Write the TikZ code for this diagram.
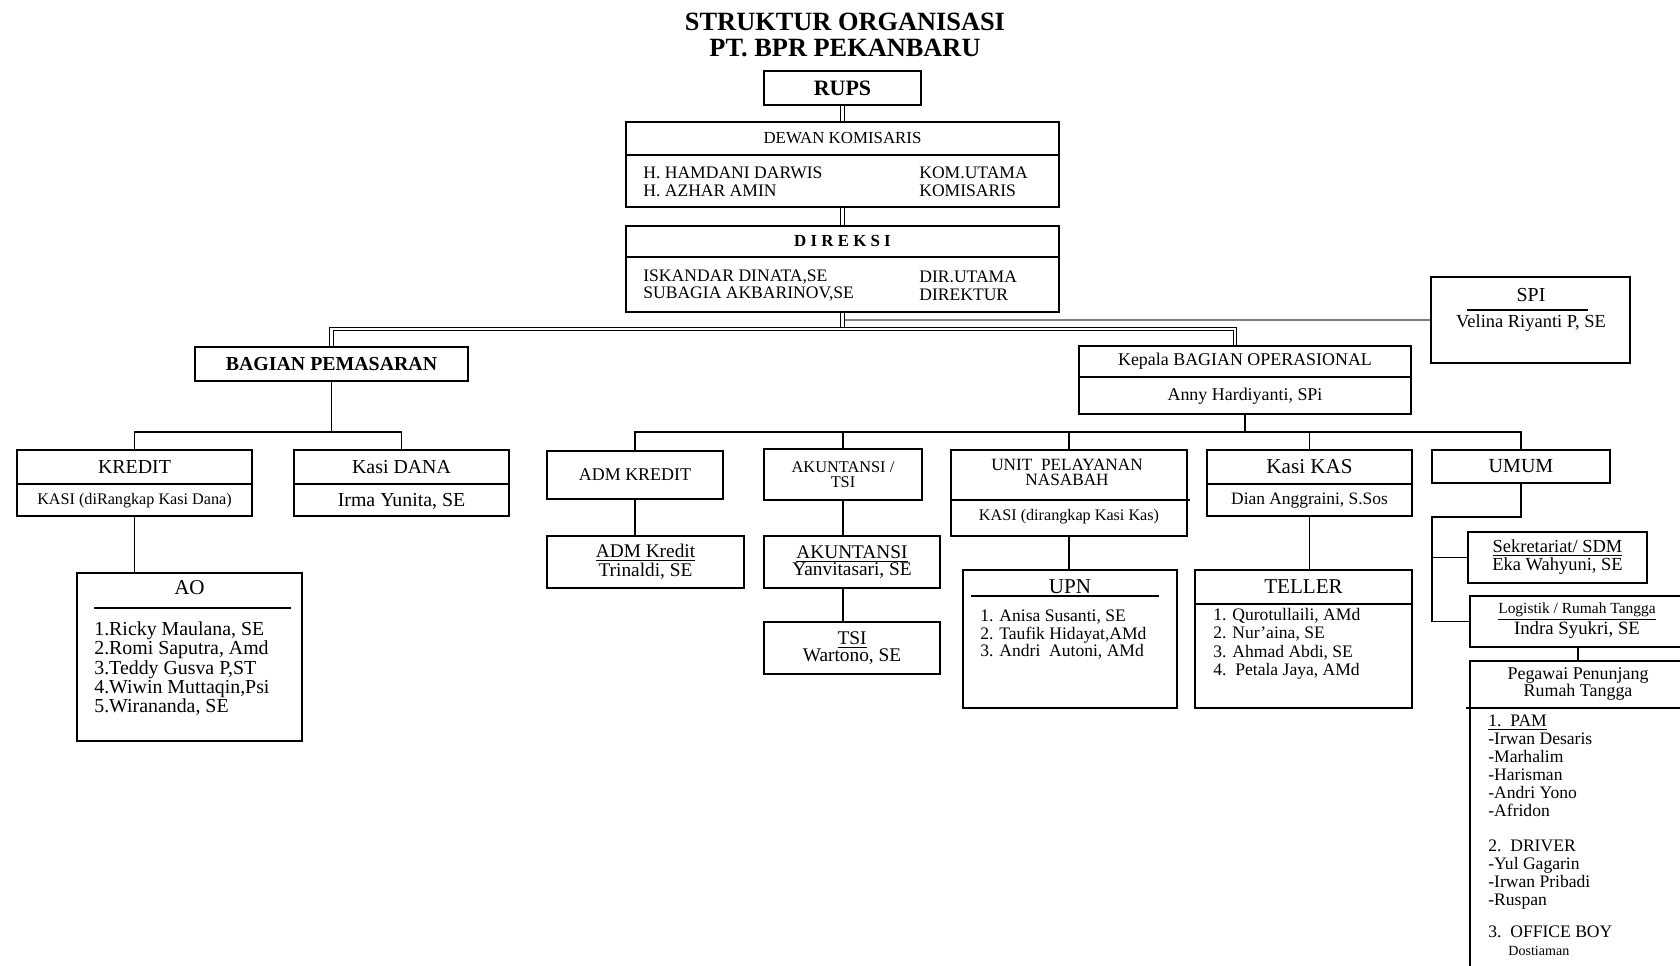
\documentclass[tikz,border=0pt]{standalone}
\usepackage{fontspec}
\setmainfont{Liberation Serif}
\usepackage{tikz}
\usetikzlibrary{calc}

\newcommand{\setfs}[2]{\fontsize{#1}{#2}\selectfont}

\begin{document}
\begin{tikzpicture}[
    box/.style={draw,line width=1.1pt,inner sep=0pt},
    txt/.style={inner sep=0pt,align=center},
    lst/.style={inner sep=0pt,align=left,anchor=north west},
    conn/.style={line width=0.9pt},
    sepl/.style={line width=1pt},
    dbl/.style={double,line width=0.7pt,double distance=1.3pt}]
      \useasboundingbox (0,0) rectangle (33.6,-19.32);
      \clip (0,0) rectangle (33.6,-19.32);

      % title
      \node[txt,font=\bfseries\setfs{15}{14.7}] (title) at (16.9,-0.7)
        {STRUKTUR ORGANISASI\\PT. BPR PEKANBARU};

      % top
      \node[box,minimum width=3.14cm,minimum height=0.68cm,font=\bfseries\setfs{12.5}{13}] (rups) at (16.85,-1.76) {RUPS};

      \node[box,minimum width=8.66cm,minimum height=1.7cm] (dk) at (16.85,-3.29) {};
      \draw[sepl] (dk.west |- 0,-3.1) -- (dk.east |- 0,-3.1);
      \node[txt,font=\setfs{9.6}{10}] (dkhead) at (16.85,-2.76) {DEWAN KOMISARIS};
      \node[txt,align=left,anchor=west,font=\setfs{10}{10.2}] (dkname) at (12.86,-3.64)
        {H. HAMDANI DARWIS\\H. AZHAR AMIN};
      \node[txt,align=left,anchor=west,font=\setfs{10}{10.2}] (dkjob) at (18.38,-3.64)
        {KOM.UTAMA\\KOMISARIS};

      \node[box,minimum width=8.66cm,minimum height=1.72cm] (direksi) at (16.85,-5.38) {};
      \draw[sepl] (direksi.west |- 0,-5.14) -- (direksi.east |- 0,-5.14);
      \node[txt,font=\bfseries\setfs{9.6}{10}] (dirhead) at (16.85,-4.82) {D I R E K S I};
      \node[txt,align=left,anchor=west,font=\setfs{10}{10.2}] (dirname) at (12.86,-5.71)
        {ISKANDAR DINATA,SE\\SUBAGIA AKBARINOV,SE};
      \node[txt,align=left,anchor=west,font=\setfs{10}{10.2}] (dirjob) at (18.38,-5.71)
        {DIR.UTAMA\\DIREKTUR};

      \draw[dbl] (rups) -- (dk);
      \draw[dbl] (dk) -- (direksi);

      % SPI
      \node[box,minimum width=3.98cm,minimum height=1.72cm] (spi) at (30.61,-6.4) {};
      \node[txt,font=\setfs{11.3}{12}] (spihead) at (30.62,-5.9) {SPI};
      \draw[conn] (29.34,-6.2) -- (31.76,-6.2);
      \node[txt,font=\setfs{10.5}{11}] (spiname) at (30.62,-6.46) {Velina Riyanti P, SE};
      \draw[line width=0.6pt,gray] (direksi.south |- spi.west) -- (spi.west);

      % bagian
      \node[box,minimum width=5.46cm,minimum height=0.68cm,font=\bfseries\setfs{11.3}{12}] (pemasaran) at (6.63,-7.28) {BAGIAN PEMASARAN};

      \node[box,minimum width=6.64cm,minimum height=1.36cm] (kepala) at (24.9,-7.6) {};
      \draw[sepl] (kepala.west |- 0,-7.54) -- (kepala.east |- 0,-7.54);
      \node[txt,font=\setfs{10.2}{10}] (kephead) at (24.9,-7.22) {Kepala BAGIAN OPERASIONAL};
      \node[txt,font=\setfs{10.2}{11}] (kepname) at (24.9,-7.93) {Anny Hardiyanti, SPi};

      \coordinate (bus) at (16.85,-6.58);
      \draw[dbl] (direksi) -- (bus);
      \draw[dbl] (pemasaran.north) |- (bus) -| ([xshift=-0.2cm]kepala.north);

      % pemasaran
      \node[box,minimum width=4.7cm,minimum height=1.32cm] (kredit) at (2.69,-9.66) {};
      \draw[sepl] (kredit.west |- 0,-9.68) -- (kredit.east |- 0,-9.68);
      \node[txt,font=\setfs{11.3}{12}] (kredhead) at (2.69,-9.34) {KREDIT};
      \node[txt,font=\setfs{9.2}{9}] (kredsub) at (2.69,-10.02) {KASI (diRangkap Kasi Dana)};

      \node[box,minimum width=4.3cm,minimum height=1.32cm] (dana) at (8.03,-9.66) {};
      \draw[sepl] (dana.west |- 0,-9.68) -- (dana.east |- 0,-9.68);
      \node[txt,font=\setfs{11.3}{12}] (danahead) at (8.03,-9.34) {Kasi DANA};
      \node[txt,font=\setfs{11.3}{12}] (dananame) at (8.03,-10.02) {Irma Yunita, SE};

      \coordinate (mbus) at (6.63,-8.64);
      \draw[conn] (pemasaran) -- (mbus);
      \draw[conn] (kredit.north) |- (mbus) -| (dana.north);

      \node[box,minimum width=4.5cm,minimum height=3.36cm] (ao) at (3.79,-13.14) {};
      \draw[conn] (kredit) -- (kredit.south |- ao.north);
      \node[txt,font=\setfs{12}{12}] (aohead) at (3.79,-11.76) {AO};
      \draw[conn] (1.88,-12.16) -- (5.82,-12.16);
      \node[lst,font=\setfs{11.3}{11}] (aolist) at (1.88,-12.43)
        {1.Ricky Maulana, SE\\2.Romi Saputra, Amd\\3.Teddy Gusva P,ST\\4.Wiwin Muttaqin,Psi\\5.Wirananda, SE};

      % operasional
      \node[box,minimum width=3.52cm,minimum height=0.96cm,font=\setfs{10.2}{11}] (admkredit) at (12.7,-9.5) {ADM KREDIT};
      \node[box,minimum width=3.16cm,minimum height=1.02cm,txt,font=\setfs{9.3}{8.6}] (akuntsi) at (16.86,-9.49) {AKUNTANSI /\\TSI};

      \node[box,minimum width=3.94cm,minimum height=1.04cm,txt,font=\setfs{11}{9.6}] (admtri) at (12.91,-11.24)
        {\underline{ADM Kredit}\\Trinaldi, SE};
      \node[box,minimum width=3.52cm,minimum height=1.04cm,txt,font=\setfs{11}{9.6}] (akun) at (17.04,-11.24)
        {\underline{AKUNTANSI}\\Yanvitasari, SE};
      \node[box,minimum width=3.52cm,minimum height=1.04cm,txt,font=\setfs{11}{9.6}] (tsi) at (17.04,-12.96)
        {\underline{TSI}\\Wartono, SE};
      \draw[conn] (admkredit) -- (admkredit.south |- admtri.north);
      \draw[conn] (akuntsi) -- (akuntsi.south |- akun.north);
      \draw[conn] (akuntsi.south |- akun.south) -- (akuntsi.south |- tsi.north);

      \node[box,minimum width=4.72cm,minimum height=1.72cm] (unp) at (21.38,-9.86) {};
      \draw[sepl] (unp.west |- 0,-10.0) -- ([xshift=0.04cm]unp.east |- 0,-10.0);
      \node[txt,font=\setfs{9.8}{8.6}] (unphead) at (21.34,-9.45) {UNIT\ \ PELAYANAN\\NASABAH};
      \node[txt,font=\setfs{9.2}{9}] (unpsub) at (21.38,-10.34) {KASI (dirangkap Kasi Kas)};

      \node[box,minimum width=4.1cm,minimum height=1.32cm] (kaskas) at (26.19,-9.66) {};
      \draw[sepl] (kaskas.west |- 0,-9.68) -- (kaskas.east |- 0,-9.68);
      \node[txt,font=\setfs{12}{12}] (kashead) at (26.19,-9.34) {Kasi KAS};
      \node[txt,font=\setfs{9.9}{10}] (kasname) at (26.19,-10.02) {Dian Anggraini, S.Sos};

      \node[box,minimum width=3.56cm,minimum height=0.66cm,font=\setfs{11.4}{12}] (umum) at (30.42,-9.33) {UMUM};

      \coordinate (obus) at (24.9,-8.64);
      \draw[conn] (kepala) -- (obus);
      \draw[conn] (admkredit.north) |- (obus) -| (umum.north);
      \draw[conn] (akuntsi.north) -- (akuntsi.north |- obus);
      \draw[conn] (unp.north) -- (unp.north |- obus);
      \draw[conn] (kaskas.north) -- (kaskas.north |- obus);

      \node[box,minimum width=4.28cm,minimum height=2.76cm] (upn) at (21.4,-12.78) {};
      \draw[conn] (unp) -- (unp.south |- upn.north);
      \node[txt,font=\setfs{12}{12}] (upnhead) at (21.4,-11.74) {UPN};
      \draw[conn] (19.42,-11.92) -- (23.18,-11.92);
      \node[lst,font=\setfs{10}{9.9}] (upnlist) at (19.6,-12.2)
        {1. Anisa Susanti, SE\\2. Taufik Hidayat,AMd\\3. Andri\ \ Autoni, AMd};

      \node[box,minimum width=4.34cm,minimum height=2.76cm] (teller) at (26.07,-12.78) {};
      \draw[conn] (kaskas) -- (kaskas.south |- teller.north);
      \draw[sepl] (teller.west |- 0,-12.08) -- (teller.east |- 0,-12.08);
      \node[txt,font=\setfs{12}{12}] (tellhead) at (26.07,-11.74) {TELLER};
      \node[lst,font=\setfs{10}{10.4}] (telllist) at (24.26,-12.16)
        {1. Qurotullaili, AMd\\2. Nur'aina, SE\\3. Ahmad Abdi, SE\\4.\ \ Petala Jaya, AMd};

      % umum
      \node[box,minimum width=3.58cm,minimum height=1.02cm,txt,font=\setfs{10.5}{10.2}] (sekret) at (31.15,-11.15)
        {\underline{Sekretariat/ SDM}\\Eka Wahyuni, SE};
      \node[box,minimum width=4.32cm,minimum height=1.02cm] (logistik) at (31.56,-12.43) {};
      \node[txt,font=\setfs{8.8}{9}] (logtitle) at (31.54,-12.24) {\underline{Logistik / Rumah Tangga}};
      \node[txt,font=\setfs{10.7}{11}] (logname) at (31.54,-12.6) {Indra Syukri, SE};

      \coordinate (ubend) at (28.64,-10.34);
      \draw[conn] (umum.south) |- (ubend) |- (logistik.west);
      \draw[conn] (ubend |- sekret.west) -- (sekret.west);

      \node[box,minimum width=4.32cm,minimum height=6.38cm] (pegawai) at (31.56,-16.41) {};
      \draw[conn] (logistik) -- (logistik.south |- pegawai.north);
      \draw[sepl] ([xshift=-0.06cm]pegawai.west |- 0,-14.16) -- (pegawai.east |- 0,-14.16);
      \node[txt,font=\setfs{10.2}{10.2}] (peghead) at (31.56,-13.68) {Pegawai Penunjang\\Rumah Tangga};
      \node[lst,font=\setfs{10}{10.2}] (peglist) at (29.76,-14.3)
        {\underline{1.\ \ PAM}\\-Irwan Desaris\\-Marhalim\\-Harisman\\-Andri Yono\\-Afridon\\[0.34cm]
         2.\ \ DRIVER\\-Yul Gagarin\\-Irwan Pribadi\\-Ruspan\\[0.28cm]
         3.\ \ OFFICE BOY\\\hspace*{0.4cm}{\setfs{8}{8}Dostiaman}};

\end{tikzpicture}
\end{document}
